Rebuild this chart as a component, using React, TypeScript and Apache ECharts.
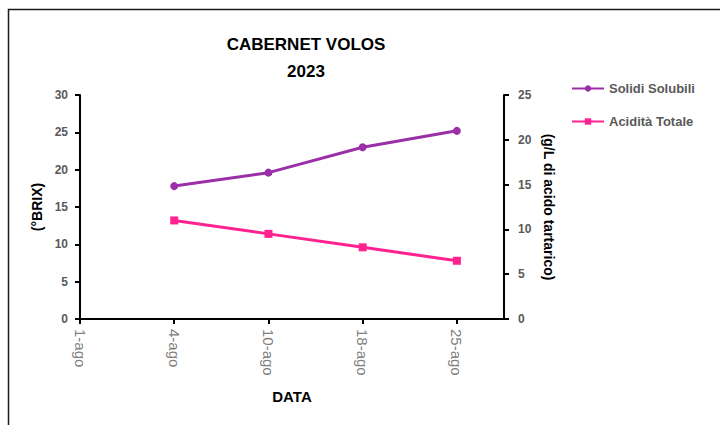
import React, { useEffect, useRef } from "react";
import * as echarts from "echarts";

const categories = ["1-ago", "4-ago", "10-ago", "18-ago", "25-ago"];
const solidiIdx = [1, 2, 3, 4];
const solidiValues = [17.8, 19.6, 23.0, 25.2];
const aciditaIdx = [1, 2, 3, 4];
const aciditaValues = [11.0, 9.5, 8.0, 6.5];
const leftTicks = { min: 0, max: 30, interval: 5 };
const rightTicks = { min: 0, max: 25, interval: 5 };

const FONT = "'Liberation Sans', Arial, sans-serif";

export default function App() {
  const ref = useRef<HTMLDivElement>(null);
  useEffect(() => {
    if (!ref.current) return;
    const chart = echarts.init(ref.current, undefined, { renderer: "svg" });
    chart.setOption({
      animation: false,
      backgroundColor: "#ffffff",
      textStyle: { fontFamily: FONT },
      title: {
        text: "CABERNET VOLOS\n2023",
        left: 301,
        top: 26,
        textAlign: "center",
        textStyle: { fontSize: 17, fontWeight: "bold", color: "#000", lineHeight: 27, fontFamily: FONT },
      },
      graphic: [
        {
          type: "rect",
          shape: { x: 8.5, y: 9.5, width: 800, height: 500 },
          style: { fill: "none", stroke: "#1a1a1a", lineWidth: 1.5 },
          silent: true,
        },
      ],
      legend: {
        orient: "vertical",
        left: 566,
        top: 77,
        itemGap: 20,
        itemWidth: 32,
        itemHeight: 8,
        textStyle: { color: "#595959", fontSize: 13, fontWeight: "bold", fontFamily: FONT },
        data: ["Solidi Solubili", "Acidità Totale"],
      },
      grid: { left: 80, top: 95, width: 424, height: 224 },
      xAxis: {
        type: "value",
        min: 0,
        max: 4.5,
        interval: 1,
        name: "DATA",
        nameLocation: "middle",
        nameGap: 70,
        nameTextStyle: { fontSize: 15, fontWeight: "bold", color: "#000", fontFamily: FONT },
        axisLine: { lineStyle: { color: "#000", width: 2 } },
        axisTick: { show: true, inside: false, length: 5, lineStyle: { color: "#000", width: 2 } },
        splitLine: { show: false },
        axisLabel: {
          rotate: -90,
          margin: 10,
          color: "#808080",
          fontSize: 15,
          showMaxLabel: false,
          fontFamily: FONT,
          formatter: (v: number) => (Number.isInteger(v) ? categories[v] ?? "" : ""),
        },
      },
      yAxis: [
        {
          type: "value",
          ...leftTicks,
          name: "(°BRIX)",
          nameLocation: "middle",
          nameRotate: 90,
          nameGap: 33,
          nameTextStyle: { fontSize: 14, fontWeight: "bold", color: "#000", fontFamily: FONT },
          axisLine: { show: true, lineStyle: { color: "#000", width: 2 } },
          axisTick: { show: true, inside: false, length: 5, lineStyle: { color: "#000", width: 2 } },
          splitLine: { show: false },
          axisLabel: { color: "#595959", fontSize: 12, fontWeight: "bold", margin: 12, fontFamily: FONT },
        },
        {
          type: "value",
          ...rightTicks,
          position: "right",
          name: "(g/L di acido tartarico)",
          nameLocation: "middle",
          nameRotate: -90,
          nameGap: 31,
          nameTextStyle: { fontSize: 14, fontWeight: "bold", color: "#000", fontFamily: FONT },
          axisLine: { show: true, lineStyle: { color: "#000", width: 2 } },
          axisTick: { show: true, inside: false, length: 5, lineStyle: { color: "#000", width: 2 } },
          splitLine: { show: false },
          axisLabel: { color: "#595959", fontSize: 12, fontWeight: "bold", margin: 14, fontFamily: FONT },
        },
      ],
      series: [
        {
          name: "Solidi Solubili",
          type: "line",
          yAxisIndex: 0,
          data: solidiIdx.map((x, i) => [x, solidiValues[i]]),
          symbol: "circle",
          symbolSize: 8,
          lineStyle: { color: "#9B2FA8", width: 3 },
          itemStyle: { color: "#9B2FA8" },
        },
        {
          name: "Acidità Totale",
          type: "line",
          yAxisIndex: 1,
          data: aciditaIdx.map((x, i) => [x, aciditaValues[i]]),
          symbol: "rect",
          symbolSize: 8,
          lineStyle: { color: "#FF2290", width: 3 },
          itemStyle: { color: "#FF2290" },
        },
      ],
    });
    return () => chart.dispose();
  }, []);
  return <div ref={ref} style={{ position: "fixed", left: 0, top: 0, width: 720, height: 425 }} />;
}
